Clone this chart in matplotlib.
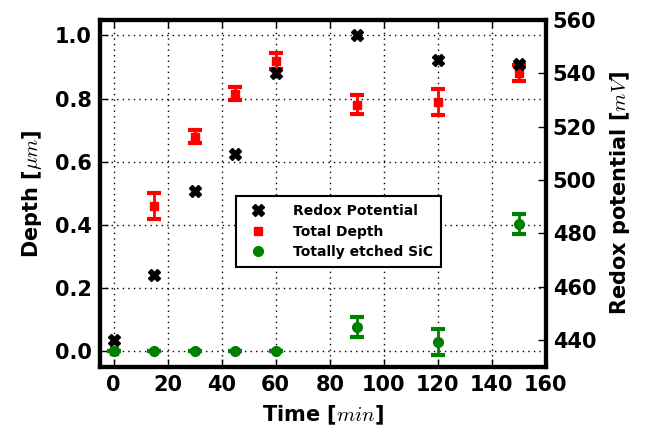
import matplotlib
matplotlib.use('Agg')
import matplotlib.pyplot as plt
from matplotlib.lines import Line2D

# etching time in minutes
time = [0, 15, 30, 45, 60, 90, 120, 150]

# redox potential (mV), right axis
redox = [440, 464.5, 496, 509.6, 540, 554.4, 545, 543.3]

# total etched depth (um) and its error
depth = [0.0, 0.46, 0.68, 0.816, 0.92, 0.78, 0.79, 0.88]
depth_err = [0.0, 0.04, 0.021, 0.021, 0.025, 0.03, 0.041, 0.025]

# totally etched SiC (um) and its error
sic = [0.0, 0.0, 0.0, 0.0, 0.0, 0.077, 0.03, 0.403]
sic_err = [0.0, 0.0, 0.0, 0.0, 0.0, 0.032, 0.041, 0.032]

plt.rcParams['font.weight'] = 'bold'
plt.rcParams['font.size'] = 15
plt.rcParams['mathtext.fontset'] = 'cm'

fig, ax = plt.subplots(figsize=(6.46, 4.37), dpi=100)
fig.subplots_adjust(left=0.155, right=0.845, top=0.955, bottom=0.16)

ax.plot(time[:1], depth[:1], 's', color='red', ms=6, mec='red')
ax.errorbar(time[1:], depth[1:], yerr=depth_err[1:], fmt='s', color='red', mec='red',
            ms=6, elinewidth=2, capsize=5, capthick=3)
ax.errorbar(time, sic, yerr=sic_err, fmt='o', color='green', mec='green',
            ms=7, elinewidth=2, capsize=5, capthick=3)

ax.set_xlim(-5, 160)
ax.set_ylim(-0.05, 1.05)
ax.set_xticks(range(0, 161, 20))
ax.set_yticks([0.0, 0.2, 0.4, 0.6, 0.8, 1.0])
ax.set_yticklabels(['0.0', '0.2', '0.4', '0.6', '0.8', '1.0'])
ax.grid(True, linestyle=(0, (1, 3)), color='black', linewidth=1)
ax.tick_params(direction='in', top=True, length=6, width=1, pad=6)
ax.set_xlabel('Time [$min$]', fontsize=15, fontweight='bold', labelpad=6)
ax.set_ylabel('Depth [$\\mu m$]', fontsize=15, fontweight='bold', labelpad=8)

ax2 = ax.twinx()
ax2.plot(time, redox, 'X', color='black', ms=8, linestyle='none')
ax2.set_ylim(430, 560)
ax2.set_yticks(range(440, 561, 20))
ax2.tick_params(direction='in', length=6, width=1, pad=5)
ax2.set_ylabel('Redox potential [$mV$]', fontsize=15, fontweight='bold', labelpad=8)

for a in (ax, ax2):
    for s in a.spines.values():
        s.set_linewidth(3)

handles = [
    Line2D([], [], marker='X', color='black', ms=8, linestyle='none'),
    Line2D([], [], marker='s', color='red', ms=6, linestyle='none'),
    Line2D([], [], marker='o', color='green', ms=7, linestyle='none'),
]
leg = ax2.legend(handles, ['Redox Potential', 'Total Depth', 'Totally etched SiC'],
                 loc='center', bbox_to_anchor=(0.535, 0.39), fontsize=10, numpoints=1,
                 fancybox=False, edgecolor='black', framealpha=1, borderpad=0.6,
                 handletextpad=1.5, labelspacing=0.45)
leg.get_frame().set_linewidth(1.5)

fig.savefig('out.png', dpi=100)
